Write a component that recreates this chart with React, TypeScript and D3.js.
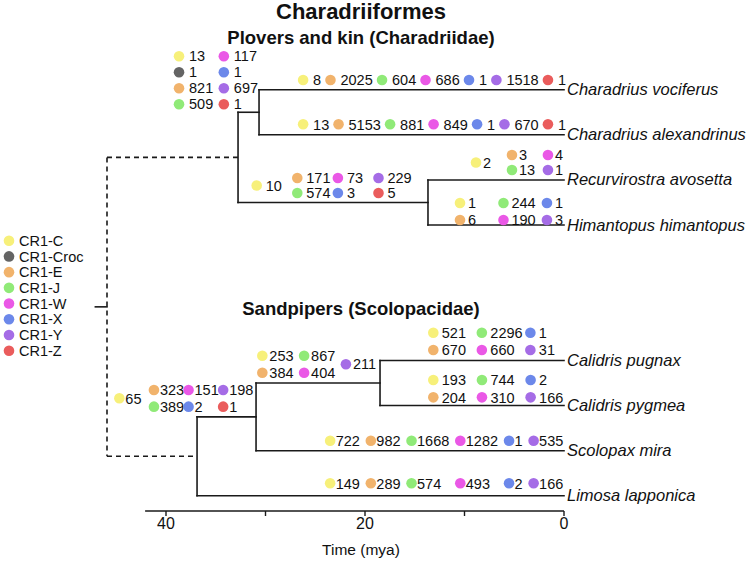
import React, { useMemo } from 'react';
import * as d3 from 'd3';

// ---------- data ----------
const families = ['CR1-C', 'CR1-Croc', 'CR1-E', 'CR1-J', 'CR1-W', 'CR1-X', 'CR1-Y', 'CR1-Z'];
const familyColors = ['#f7f07a', '#646464', '#f1b36c', '#90ea78', '#ea58e6', '#6c88ea', '#a56ce6', '#ea5c5c'];

const tipNames = [
  'Charadrius vociferus', 'Charadrius alexandrinus', 'Recurvirostra avosetta', 'Himantopus himantopus',
  'Calidris pugnax', 'Calidris pygmea', 'Scolopax mira', 'Limosa lapponica',
];
const tipSlots = [0, 1, 2, 3, 6, 7, 8, 9];

const nodeNames = ['root', 'Charadriidae', 'Charadrius', 'Recurvirostridae', 'Scolopacidae', 'CalidrisScolopax', 'Calidris'];
const nodeAges = [45.93, 32.76, 30.65, 13.67, 36.88, 30.95, 18.49];
const nodeChildren = [
  ['Charadriidae', 'Scolopacidae'],
  ['Charadrius', 'Recurvirostridae'],
  ['Charadrius vociferus', 'Charadrius alexandrinus'],
  ['Recurvirostra avosetta', 'Himantopus himantopus'],
  ['CalidrisScolopax', 'Limosa lapponica'],
  ['Calidris', 'Scolopax mira'],
  ['Calidris pugnax', 'Calidris pygmea'],
];
const rootStemAge = 47.1;
const axisMaxAge = 42.1;
const axisTicks = [40, 30, 20, 10, 0];
const axisTickLabels = [40, 20, 0];

// CR1 copy counts per branch
const countsCharadrius: [string, number][] = [['CR1-C', 13], ['CR1-Croc', 1], ['CR1-E', 821], ['CR1-J', 509], ['CR1-W', 117], ['CR1-X', 1], ['CR1-Y', 697], ['CR1-Z', 1]];
const countsRecurvirostridae: [string, number][] = [['CR1-C', 10], ['CR1-E', 171], ['CR1-J', 574], ['CR1-W', 73], ['CR1-X', 3], ['CR1-Y', 229], ['CR1-Z', 5]];
const countsVociferus: [string, number][] = [['CR1-C', 8], ['CR1-E', 2025], ['CR1-J', 604], ['CR1-W', 686], ['CR1-X', 1], ['CR1-Y', 1518], ['CR1-Z', 1]];
const countsAlexandrinus: [string, number][] = [['CR1-C', 13], ['CR1-E', 5153], ['CR1-J', 881], ['CR1-W', 849], ['CR1-X', 1], ['CR1-Y', 670], ['CR1-Z', 1]];
const countsAvosetta: [string, number][] = [['CR1-C', 2], ['CR1-E', 3], ['CR1-J', 13], ['CR1-W', 4], ['CR1-Y', 1]];
const countsHimantopus: [string, number][] = [['CR1-C', 1], ['CR1-E', 6], ['CR1-J', 244], ['CR1-W', 190], ['CR1-X', 1], ['CR1-Y', 3]];
const countsCalidrisScolopax: [string, number][] = [['CR1-C', 65], ['CR1-E', 323], ['CR1-J', 389], ['CR1-W', 151], ['CR1-X', 2], ['CR1-Y', 198], ['CR1-Z', 1]];
const countsCalidris: [string, number][] = [['CR1-C', 253], ['CR1-E', 384], ['CR1-J', 867], ['CR1-W', 404], ['CR1-Y', 211]];
const countsPugnax: [string, number][] = [['CR1-C', 521], ['CR1-E', 670], ['CR1-J', 2296], ['CR1-W', 660], ['CR1-X', 1], ['CR1-Y', 31]];
const countsPygmea: [string, number][] = [['CR1-C', 193], ['CR1-E', 204], ['CR1-J', 744], ['CR1-W', 310], ['CR1-X', 2], ['CR1-Y', 166]];
const countsScolopax: [string, number][] = [['CR1-C', 722], ['CR1-E', 982], ['CR1-J', 1668], ['CR1-W', 1282], ['CR1-X', 1], ['CR1-Y', 535]];
const countsLimosa: [string, number][] = [['CR1-C', 149], ['CR1-E', 289], ['CR1-J', 574], ['CR1-W', 493], ['CR1-X', 2], ['CR1-Y', 166]];

// ---------- label block layout (placement relative to branch end) ----------
const one = (v: [string, number][]) => v.map(d => [d[0]]);
const blocks: any[] = [
  { branch: 'Charadrius', values: countsCharadrius, mode: 'spread', cols: [['CR1-C', 'CR1-Croc', 'CR1-E', 'CR1-J'], ['CR1-W', 'CR1-X', 'CR1-Y', 'CR1-Z']], start: -80, end: -1, c2t: 10, rowGap: 16, bottom: 8 },
  { branch: 'Recurvirostridae', values: countsRecurvirostridae, mode: 'spread', cols: [['CR1-C'], ['CR1-E', 'CR1-J'], ['CR1-W', 'CR1-X'], ['CR1-Y', 'CR1-Z']], start: -171.3, end: -16.3, c2t: 9, rowGap: 15, bottom: 9.5 },
  { branch: 'Charadrius vociferus', values: countsVociferus, mode: 'flow', cols: one(countsVociferus), end: 2, c2t: 10, gap: 9.3, rowGap: 0, bottom: 9.7 },
  { branch: 'Charadrius alexandrinus', values: countsAlexandrinus, mode: 'flow', cols: one(countsAlexandrinus), end: 2, c2t: 10, gap: 9.3, rowGap: 0, bottom: 10.5 },
  { branch: 'Recurvirostra avosetta', values: countsAvosetta, mode: 'spread', cols: [['CR1-C'], ['CR1-E', 'CR1-J'], ['CR1-W', 'CR1-Y']], start: -88, end: -1, c2t: 7, rowGap: 15, bottom: 10 },
  { branch: 'Himantopus himantopus', values: countsHimantopus, mode: 'spread', cols: [['CR1-C', 'CR1-E'], ['CR1-J', 'CR1-W'], ['CR1-X', 'CR1-Y']], start: -104, end: -1, c2t: 8, rowGap: 17, bottom: 5 },
  { branch: 'CalidrisScolopax', values: countsCalidrisScolopax, mode: 'spread', cols: [['CR1-C'], ['CR1-E', 'CR1-J'], ['CR1-W', 'CR1-X'], ['CR1-Y', 'CR1-Z']], start: -136.7, end: -2.7, c2t: 6, rowGap: 16.7, bottom: 10.2 },
  { branch: 'Calidris', values: countsCalidris, mode: 'spread', cols: [['CR1-C', 'CR1-E'], ['CR1-J', 'CR1-W'], ['CR1-Y']], start: -117.7, end: -4, c2t: 7, rowGap: 17, bottom: 10.3 },
  { branch: 'Calidris pugnax', values: countsPugnax, mode: 'spread', cols: [['CR1-C', 'CR1-E'], ['CR1-J', 'CR1-W'], ['CR1-X', 'CR1-Y']], start: -130.7, end: -9, c2t: 8.5, rowGap: 17.3, bottom: 10.4 },
  { branch: 'Calidris pygmea', values: countsPygmea, mode: 'spread', cols: [['CR1-C', 'CR1-E'], ['CR1-J', 'CR1-W'], ['CR1-X', 'CR1-Y']], start: -130.7, end: -0.7, c2t: 8.5, rowGap: 17.3, bottom: 8.2 },
  { branch: 'Scolopax mira', values: countsScolopax, mode: 'flow', share: 'sl', cols: one(countsScolopax), end: -0.7, c2t: 5.5, gap: 11, rowGap: 0, bottom: 10 },
  { branch: 'Limosa lapponica', values: countsLimosa, mode: 'flow', share: 'sl', cols: one(countsLimosa), end: -0.7, c2t: 5.5, gap: 11, rowGap: 0, bottom: 12.5 },
];

const FONT = '"Liberation Sans", Arial, Helvetica, sans-serif';
const NUM_SIZE = 14.5;
const R = 5.3;

let _ctx: CanvasRenderingContext2D | null = null;
function textWidth(s: string, size = NUM_SIZE) {
  if (!_ctx) _ctx = document.createElement('canvas').getContext('2d');
  if (!_ctx) return s.length * size * 0.556;
  _ctx.font = `${size}px ${FONT}`;
  return _ctx.measureText(s).width;
}

export default function App() {
  const W = 750, H = 564;
  const centerX = 361;
  const x = d3.scaleLinear().domain([45.93, 0]).range([107, 564]);
  const y = d3.scaleLinear().domain([0, 9]).range([89.7, 495.8]);
  const color = d3.scaleOrdinal<string, string>().domain(families).range(familyColors);

  const layout = useMemo(() => {
    const pos: Record<string, { x: number; y: number }> = {};
    tipNames.forEach((n, i) => { pos[n] = { x: x(0), y: y(tipSlots[i]) }; });
    const idx = (n: string) => nodeNames.indexOf(n);
    const place = (n: string): { x: number; y: number } => {
      if (pos[n]) return pos[n];
      const i = idx(n);
      const ch = nodeChildren[i].map(place);
      pos[n] = { x: x(nodeAges[i]), y: d3.mean(ch, c => c.y) as number };
      return pos[n];
    };
    place('root');

    // shared column widths
    const shared: Record<string, number[]> = {};
    blocks.forEach(b => {
      if (!b.share) return;
      const m = new Map(b.values);
      const w = b.cols.map((col: string[]) => d3.max(col, f => textWidth(String(m.get(f)))) as number);
      shared[b.share] = shared[b.share] ? shared[b.share].map((v, i) => Math.max(v, w[i])) : w;
    });

    const items: { f: string; v: number; cx: number; cy: number; c2t: number }[] = [];
    blocks.forEach(b => {
      const p = pos[b.branch];
      const m = new Map<string, number>(b.values);
      const n = b.cols.length;
      const colW: number[] = b.share ? shared[b.share] : b.cols.map((col: string[]) => d3.max(col, f => textWidth(String(m.get(f)))) as number);
      const endX = p.x + b.end;
      const xs: number[] = new Array(n);
      if (b.mode === 'spread') {
        const startX = p.x + b.start;
        const lastX = endX - b.c2t - colW[n - 1];
        for (let i = 0; i < n; i++) xs[i] = n === 1 ? startX : startX + (lastX - startX) * i / (n - 1);
      } else {
        let cx = endX - b.c2t - colW[n - 1];
        for (let i = n - 1; i >= 0; i--) {
          xs[i] = cx;
          if (i > 0) cx -= b.c2t + colW[i - 1] + b.gap;
        }
      }
      const nRows = d3.max(b.cols, (c: string[]) => c.length) as number;
      const bottomY = p.y - b.bottom;
      b.cols.forEach((col: string[], ci: number) => {
        col.forEach((f, ri) => {
          const cy = col.length === 1 && nRows > 1
            ? bottomY - (nRows - 1) * b.rowGap / 2
            : bottomY - (nRows - 1 - ri) * b.rowGap;
          items.push({ f, v: m.get(f) as number, cx: xs[ci], cy, c2t: b.c2t });
        });
      });
    });
    return { pos, items };
  }, []);

  const { pos, items } = layout;

  const solid: string[] = [];
  const dashed: string[] = [];
  nodeNames.forEach((n, i) => {
    const p = pos[n];
    const ch = nodeChildren[i].map(c => pos[c]);
    const arr = n === 'root' ? dashed : solid;
    const ys = ch.map(c => c.y);
    arr.push(`M${p.x},${Math.min(...ys)}V${Math.max(...ys)}`);
    ch.forEach(c => arr.push(`M${p.x},${c.y}H${c.x}`));
  });
  const rootP = pos['root'];
  solid.push(`M${x(rootStemAge)},${rootP.y}H${rootP.x}`);

  const axisY = 511;
  const legendY = d3.scaleLinear().domain([0, 7]).range([240.7, 350.7]);

  return (
    <svg width={W} height={H} style={{ position: 'absolute', left: 0, top: 0, background: '#fff' }} fontFamily={FONT}>
      <rect width={W} height={H} fill="#fff" />
      <text x={centerX} y={19} textAnchor="middle" fontWeight="bold" fontSize={22} fill="#111">Charadriiformes</text>
      <text x={centerX} y={44} textAnchor="middle" fontWeight="bold" fontSize={18.5} fill="#111">Plovers and kin (Charadriidae)</text>
      <text x={centerX} y={315} textAnchor="middle" fontWeight="bold" fontSize={18.5} fill="#111">Sandpipers (Scolopacidae)</text>

      <g fill="none" stroke="#1a1a1a" strokeWidth={1.6} strokeLinecap="square">
        {solid.map((d, i) => <path key={i} d={d} />)}
      </g>
      <g fill="none" stroke="#1a1a1a" strokeWidth={1.6} strokeDasharray="5,4">
        {dashed.map((d, i) => <path key={i} d={d} />)}
      </g>

      {tipNames.map(n => (
        <text key={n} x={pos[n].x + 3} y={pos[n].y} dy="0.33em" fontStyle="italic" fontSize={16.5} fill="#111">{n}</text>
      ))}

      <g fontSize={NUM_SIZE} fill="#111">
        {items.map((it, i) => (
          <g key={i}>
            <circle cx={it.cx} cy={it.cy} r={R} fill={color(it.f)} />
            <text x={it.cx + it.c2t} y={it.cy} dy="0.36em">{it.v}</text>
          </g>
        ))}
      </g>

      <g fontSize={NUM_SIZE} fill="#111">
        {families.map((f, i) => (
          <g key={f}>
            <circle cx={9} cy={legendY(i)} r={R} fill={color(f)} />
            <text x={19} y={legendY(i)} dy="0.36em">{f}</text>
          </g>
        ))}
      </g>

      <g stroke="#1a1a1a" strokeWidth={1.4}>
        <line x1={x(axisMaxAge)} x2={x(0)} y1={axisY} y2={axisY} />
        {axisTicks.map(t => <line key={t} x1={x(t)} x2={x(t)} y1={axisY} y2={axisY + 5} />)}
      </g>
      <g fontSize={16} fill="#111" textAnchor="middle">
        {axisTickLabels.map(t => <text key={t} x={x(t)} y={529}>{t}</text>)}
        <text x={centerX} y={555} fontSize={15.5}>Time (mya)</text>
      </g>
    </svg>
  );
}
